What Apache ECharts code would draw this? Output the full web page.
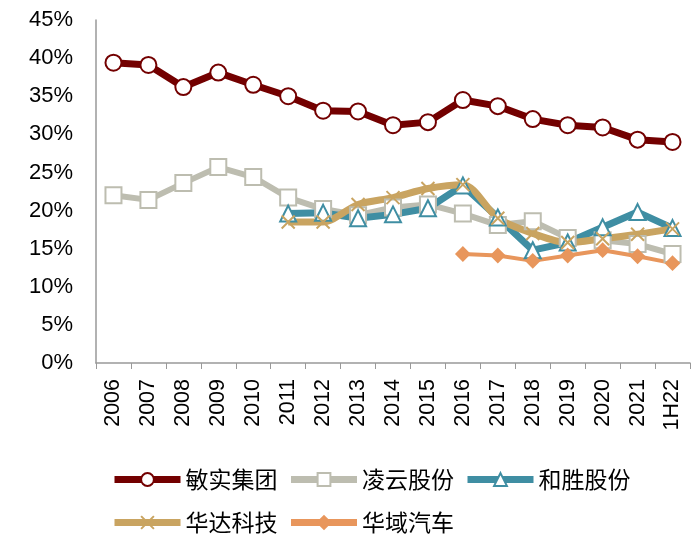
<!DOCTYPE html>
<html><head><meta charset="utf-8">
<script src="https://cdn.jsdelivr.net/npm/echarts@6/dist/echarts.min.js"></script>
<style>html,body{margin:0;padding:0;background:#fff}#c{width:700px;height:550px}</style>
</head><body><div id="c"></div>
<script>
const categories = ['2006','2007','2008','2009','2010','2011','2012','2013','2014','2015','2016','2017','2018','2019','2020','2021','1H22'];
const minshi  = [39.4,39.1,36.2,38.1,36.5,35.0,33.1,33.0,31.2,31.6,34.5,33.7,32.0,31.2,30.9,29.3,29.0];
const lingyun = [22.0,21.4,23.6,25.7,24.4,21.7,20.2,19.4,20.4,20.8,19.6,18.1,18.6,16.4,16.1,15.6,14.3];
const hesheng = [null,null,null,null,null,19.6,19.7,19.0,19.5,20.3,23.3,19.1,14.8,15.8,17.8,19.8,17.7];
const huada   = [null,null,null,null,null,18.5,18.5,20.8,21.7,22.9,23.4,19.0,17.0,15.8,16.3,16.9,17.6];
const huayu   = [null,null,null,null,null,null,null,null,null,null,14.3,14.1,13.4,14.1,14.8,14.0,13.1];
const yTicks = [0,5,10,15,20,25,30,35,40,45];

const FONT = 'Liberation Sans, Arial, Noto Sans CJK SC, sans-serif';
const chart = echarts.init(document.getElementById('c'));
const xSym = 'path://M0,0 L10,10 M10,0 L0,10';
function mk(name, data, color, symbol, size, width, fill, extra) {
  return Object.assign({
    name, type: 'line', data, symbol, symbolSize: size, showSymbol: true,
    connectNulls: false,
    lineStyle: { color, width },
    itemStyle: { color: fill, borderColor: color, borderWidth: 2 },
    emphasis: { disabled: true }
  }, extra || {});
}
const legendText = { fontSize: 23, color: '#000', fontFamily: 'Noto Sans CJK SC, sans-serif' };
const legendCommon = { padding: 0, itemWidth: 66, itemHeight: 16, itemGap: 10, textStyle: legendText,
  lineStyle: { width: 7 } };
chart.setOption({
  animation: false,
  textStyle: { fontFamily: FONT },
  grid: { left: 96, right: 10, top: 20, bottom: 187 },
  legend: [
    Object.assign({ left: 111, top: 468, data: ['敏实集团','凌云股份','和胜股份'] }, legendCommon),
    Object.assign({ left: 111, top: 511, data: ['华达科技','华域汽车'] }, legendCommon)
  ],
  xAxis: {
    type: 'category', data: categories, boundaryGap: true,
    axisLine: { lineStyle: { color: '#999', width: 1.5 } },
    axisTick: { show: true, length: 6, lineStyle: { color: '#999' } },
    axisLabel: { rotate: 90, fontSize: 21.5, color: '#000', margin: 16, fontFamily: FONT }
  },
  yAxis: {
    type: 'value', min: 0, max: 45, interval: 5,
    axisLine: { show: true, lineStyle: { color: '#999', width: 1.5 } },
    axisTick: { show: false },
    splitLine: { show: false },
    axisLabel: { fontSize: 22, color: '#000', margin: 23, fontFamily: FONT,
      formatter: v => yTicks.includes(v) ? v + '%' : '' }
  },
  series: [
    mk('敏实集团', minshi, '#730000', 'circle', 16, 7, '#fff'),
    mk('凌云股份', lingyun, '#BDBDB0', 'rect', 16, 6, '#fff'),
    mk('和胜股份', hesheng, '#3F8EA3', 'triangle', 16, 7, '#fff'),
    mk('华达科技', huada, '#C9A461', xSym, 13, 7, '#C9A461', { smooth: 0.3 }),
    mk('华域汽车', huayu, '#E8965C', 'diamond', 13, 4, '#E8965C')
  ]
});
</script></body></html>
